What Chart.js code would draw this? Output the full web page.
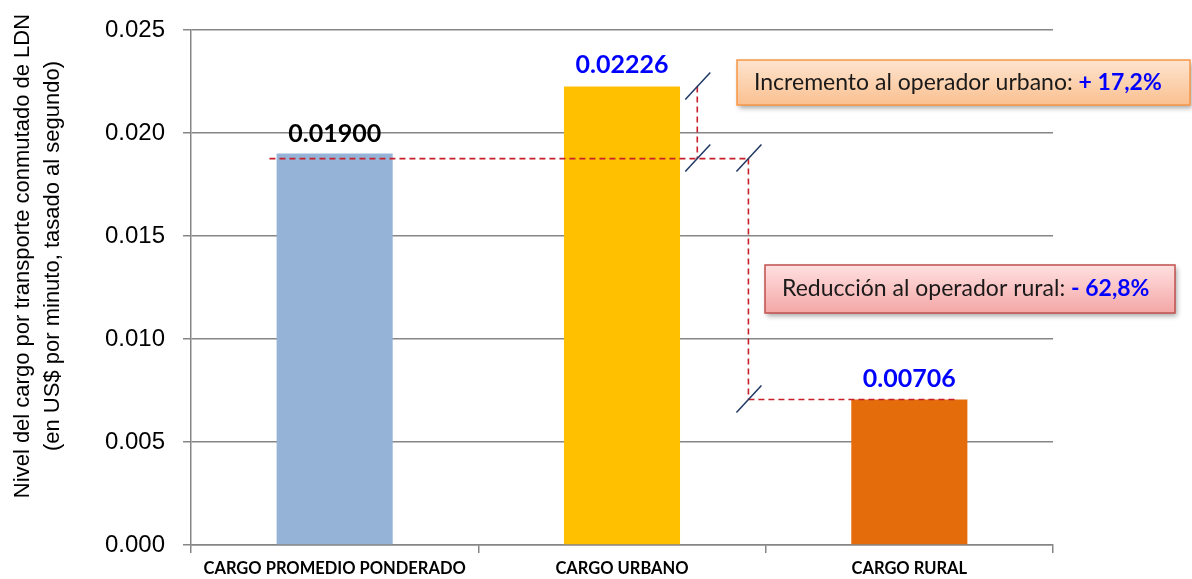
<!DOCTYPE html>
<html>
<head>
<meta charset="utf-8">
<script src="https://cdn.jsdelivr.net/npm/chart.js@4.4.1/dist/chart.umd.min.js"></script>
<style>
  html, body { margin: 0; padding: 0; background: #fff; }
  #wrap { width: 1192px; height: 579px; }
</style>
</head>
<body>
<div id="wrap"><canvas id="chart" width="1192" height="579"></canvas></div>
<script>
// Chart values
const categories = ['CARGO PROMEDIO PONDERADO', 'CARGO URBANO', 'CARGO RURAL'];
const cargoValues = [0.01900, 0.02226, 0.00706];
const valueLabels = ['0.01900', '0.02226', '0.00706'];
const barColors = ['#95B3D7', '#FFC000', '#E46C0A'];
const labelColors = ['#000000', '#0000FF', '#0000FF'];
const yTitleLines = ['Nivel del cargo por transporte conmutado de LDN', '(en US$ por minuto, tasado al segundo)'];
const incrementoText = ['Incremento al operador urbano: ', '+ 17,2%'];
const reduccionText = ['Reducción al operador rural: ', '- 62,8%'];

const RED = '#C8202A';
const NAVY = '#1F3864';

function slash(ctx, x, y) {
  ctx.save();
  ctx.strokeStyle = NAVY;
  ctx.lineWidth = 1.5;
  ctx.setLineDash([]);
  ctx.beginPath();
  ctx.moveTo(x - 12, y + 13);
  ctx.lineTo(x + 13, y - 14);
  ctx.stroke();
  ctx.restore();
}

function dashed(ctx, x1, y1, x2, y2) {
  ctx.save();
  ctx.strokeStyle = RED;
  ctx.lineWidth = 1.6;
  ctx.setLineDash([6, 4]);
  ctx.beginPath();
  ctx.moveTo(x1, y1);
  ctx.lineTo(x2, y2);
  ctx.stroke();
  ctx.restore();
}

function textBox(ctx, x, y, w, h, top, bottom, border, parts) {
  ctx.save();
  ctx.shadowColor = 'rgba(0,0,0,0.35)';
  ctx.shadowBlur = 5;
  ctx.shadowOffsetX = 2;
  ctx.shadowOffsetY = 3;
  const g = ctx.createLinearGradient(0, y, 0, y + h);
  g.addColorStop(0, top);
  g.addColorStop(1, bottom);
  ctx.fillStyle = g;
  ctx.fillRect(x, y, w, h);
  ctx.restore();
  ctx.save();
  ctx.strokeStyle = border;
  ctx.lineWidth = 1.5;
  ctx.strokeRect(x, y, w, h);
  ctx.textBaseline = 'middle';
  ctx.textAlign = 'left';
  ctx.font = '23px Lato';
  ctx.fillStyle = '#1a1a1a';
  ctx.fillText(parts[0], x + 17, y + h / 2);
  const w0 = ctx.measureText(parts[0]).width;
  ctx.font = 'bold 23px Lato';
  ctx.fillStyle = '#0000FF';
  ctx.fillText(parts[1], x + 17 + w0, y + h / 2);
  ctx.restore();
}

const overlay = {
  id: 'overlay',
  afterDatasetsDraw(chart) {
    const { ctx, scales: { x, y } } = chart;
    const bars = chart.getDatasetMeta(0).data;
    const cw = x.getPixelForValue(1) - x.getPixelForValue(0);

    // value labels
    const lift = [20, 22, 21];
    ctx.save();
    ctx.font = 'bold 25px Lato';
    ctx.textAlign = 'center';
    ctx.textBaseline = 'middle';
    bars.forEach((b, i) => {
      ctx.fillStyle = labelColors[i];
      ctx.fillText(valueLabels[i], b.x, b.y - lift[i]);
    });
    ctx.restore();

    // comparison lines
    const yAvg = y.getPixelForValue(cargoValues[0]) + 5;
    const yUrb = y.getPixelForValue(cargoValues[1]);
    const yRur = y.getPixelForValue(cargoValues[2]);
    const x1 = x.getPixelForValue(1) + cw * 0.262;
    const x2 = x.getPixelForValue(1) + cw * 0.44;
    dashed(ctx, x.getPixelForValue(0) - cw * 0.227, yAvg, x2, yAvg);
    dashed(ctx, x1, yUrb, x1, yAvg);
    dashed(ctx, x2, yAvg, x2, yRur);
    dashed(ctx, x2, yRur, x.getPixelForValue(2) + cw * 0.17, yRur);
    slash(ctx, x1, yUrb);
    slash(ctx, x1, yAvg);
    slash(ctx, x2, yAvg);
    slash(ctx, x2, yRur);

    textBox(ctx, 737, 60, 453, 45, '#FDE4CF', '#FAC090', '#F79646', incrementoText);
    textBox(ctx, 765, 265, 410, 48, '#FFE0E0', '#F4A6A6', '#C0504D', reduccionText);

    // y axis title
    ctx.save();
    ctx.font = '22px "Liberation Sans"';
    ctx.fillStyle = '#000';
    ctx.textAlign = 'center';
    ctx.textBaseline = 'middle';
    ctx.translate(0, 256);
    ctx.rotate(-Math.PI / 2);
    ctx.fillText(yTitleLines[0], 0, 23);
    ctx.fillText(yTitleLines[1], 0, 53);
    ctx.restore();
  }
};

new Chart(document.getElementById('chart'), {
  type: 'bar',
  data: {
    labels: categories,
    datasets: [{
      data: cargoValues,
      backgroundColor: barColors,
      barPercentage: 0.404,
      categoryPercentage: 1
    }]
  },
  options: {
    responsive: false,
    animation: false,
    layout: { padding: { top: 30, right: 139, left: 0, bottom: 0 } },
    plugins: { legend: { display: false }, tooltip: { enabled: false } },
    scales: {
      x: {
        grid: { drawOnChartArea: false, drawTicks: true, tickLength: 8, color: '#868686', lineWidth: 1.5 },
        border: { color: '#868686', width: 1.5 },
        ticks: { color: '#000', font: { family: 'Lato', weight: 'bold', size: 16.5 }, padding: 6, maxRotation: 0 },
        afterFit(s) { s.height = 34; s.paddingLeft = 0; s.paddingRight = 0; }
      },
      y: {
        min: 0,
        max: 0.025,
        ticks: {
          stepSize: 0.005,
          color: '#000',
          padding: 18,
          font: { family: 'Liberation Sans', size: 24 },
          callback: v => v.toFixed(3)
        },
        grid: { color: '#868686', lineWidth: 1.5, tickLength: 8 },
        border: { color: '#868686', width: 1.5 },
        afterFit(s) { s.width = 191; s.paddingTop = 0; s.paddingBottom = 0; }
      }
    }
  },
  plugins: [overlay]
});
</script>
</body>
</html>
